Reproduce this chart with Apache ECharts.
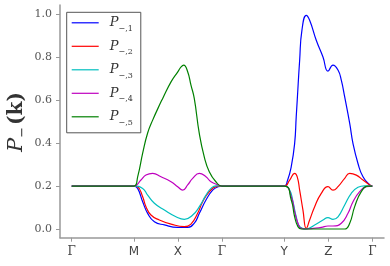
<!DOCTYPE html>
<html><head><meta charset="utf-8">
<script src="https://cdn.jsdelivr.net/npm/echarts@6/dist/echarts.min.js"></script>
<style>html,body{margin:0;padding:0;background:#fff}#c{width:390px;height:266px}</style>
</head><body><div id="c"></div>
<script>
// path coordinate of high-symmetry points and their labels
const tickPos = [0, 1.414, 2.414, 3.414, 4.828, 5.828, 6.828];
const tickLabels = ['Γ', 'M', 'X', 'Γ', 'Y', 'Z', 'Γ'];
const yTicks = [0, 0.2, 0.4, 0.6, 0.8, 1.0];
const seriesNames = ['P1', 'P2', 'P3', 'P4', 'P5'];
const subs = ['−,1', '−,2', '−,3', '−,4', '−,5'];

const p1 = [[0,0.2],[1.414,0.2],[1.498,0.189],[1.612,0.127],[1.725,0.073],[1.878,0.034],[2.105,0.019],[2.407,0.008],[2.634,0.008],[2.786,0.027],[2.9,0.073],[3.05,0.135],[3.202,0.181],[3.327,0.197],[3.414,0.2],
  [4.828,0.2],[4.9,0.225],[4.987,0.29],[5.064,0.398],[5.1,0.522],[5.123,0.6],[5.178,0.786],[5.23,0.926],[5.328,0.995],[5.405,0.972],[5.555,0.879],[5.708,0.801],[5.821,0.735],[5.935,0.763],[6.049,0.74],[6.124,0.693],[6.201,0.615],[6.315,0.492],[6.39,0.398],[6.503,0.305],[6.617,0.243],[6.77,0.205],[6.828,0.2]];
const p2 = [[0,0.2],[1.414,0.2],[1.498,0.197],[1.612,0.15],[1.687,0.104],[1.8,0.065],[1.991,0.042],[2.255,0.023],[2.559,0.011],[2.709,0.023],[2.861,0.073],[2.975,0.127],[3.127,0.174],[3.277,0.197],[3.414,0.2],
  [4.828,0.2],[4.951,0.228],[5.064,0.259],[5.123,0.243],[5.178,0.181],[5.253,0.088],[5.328,0.003],[5.405,0.042],[5.519,0.104],[5.669,0.166],[5.821,0.197],[5.935,0.181],[6.049,0.197],[6.201,0.236],[6.315,0.259],[6.465,0.251],[6.617,0.228],[6.77,0.205],[6.828,0.2]];
const p3 = [[0,0.2],[1.414,0.2],[1.612,0.189],[1.725,0.158],[1.878,0.12],[2.105,0.088],[2.368,0.057],[2.559,0.045],[2.748,0.065],[2.9,0.104],[3.05,0.158],[3.164,0.189],[3.277,0.201],[3.414,0.2],
  [4.828,0.2],[4.951,0.181],[5.026,0.127],[5.1,0.057],[5.178,0.011],[5.328,0.0],[5.519,0.019],[5.708,0.042],[5.821,0.053],[5.935,0.045],[6.049,0.057],[6.201,0.112],[6.351,0.166],[6.503,0.194],[6.655,0.201],[6.828,0.2]];
const p4 = [[0,0.2],[1.414,0.2],[1.573,0.228],[1.687,0.251],[1.839,0.259],[2.028,0.243],[2.256,0.22],[2.407,0.197],[2.52,0.181],[2.634,0.205],[2.748,0.236],[2.9,0.259],[3.05,0.243],[3.164,0.22],[3.33,0.205],[3.414,0.2],
  [4.828,0.2],[4.987,0.15],[5.064,0.081],[5.139,0.027],[5.214,0.003],[5.328,0.0],[5.669,0.008],[5.821,0.014],[5.935,0.014],[6.124,0.027],[6.276,0.073],[6.39,0.127],[6.541,0.174],[6.691,0.197],[6.828,0.2]];
const p5 = [[0,0.2],[1.414,0.2],[1.498,0.243],[1.612,0.353],[1.725,0.447],[1.839,0.507],[2.028,0.592],[2.067,0.608],[2.256,0.685],[2.41,0.732],[2.485,0.755],[2.544,0.763],[2.634,0.732],[2.709,0.67],[2.784,0.608],[2.898,0.445],[3.011,0.336],[3.125,0.267],[3.275,0.22],[3.414,0.2],
  [4.828,0.2],[4.987,0.135],[5.064,0.057],[5.139,0.011],[5.214,0.0],[5.6,0.0],[6.0,0.0],[6.201,0.0],[6.315,0.027],[6.428,0.104],[6.578,0.174],[6.73,0.2],[6.828,0.2]];

const colors = ['#0000ff', '#ff0000', '#00bfbf', '#bf00bf', '#008000'];
const data = [p1, p2, p3, p4, p5];

const chart = echarts.init(document.getElementById('c'), null, {renderer: 'canvas'});
const axisGray = '#999999';
chart.setOption({
  animation: false,
  backgroundColor: '#ffffff',
  grid: {left: 60, right: 6, top: 5, bottom: 28.3},
  xAxis: {
    type: 'value', min: -0.266, max: 7.094,
    axisLine: {show: true, onZero: false, lineStyle: {color: axisGray, width: 1.5}},
    axisTick: {show: true, length: 4, customValues: tickPos, lineStyle: {color: axisGray}},
    splitLine: {show: false},
    axisLabel: {
      customValues: tickPos, margin: 8, color: '#444', fontFamily: 'DejaVu Sans', fontSize: 12,
      formatter: function (v) {
        let idx = 0, best = 1e9;
        tickPos.forEach((t, i) => { if (Math.abs(t - v) < best) { best = Math.abs(t - v); idx = i; } });
        const s = tickLabels[idx];
        return s === 'Γ' ? '{g|Γ}' : s;
      },
      rich: {g: {fontFamily: 'DejaVu Serif', fontSize: 12, color: '#444'}}
    }
  },
  yAxis: {
    type: 'value', min: -0.0405, max: 1.043,
    axisLine: {show: true, onZero: false, lineStyle: {color: axisGray, width: 1.5}},
    axisTick: {show: true, length: 4, customValues: yTicks, lineStyle: {color: axisGray}},
    splitLine: {show: false},
    axisLabel: {customValues: yTicks, margin: 8, color: '#555', fontFamily: 'DejaVu Serif', fontSize: 11,
      formatter: v => v.toFixed(1)}
  },
  legend: {
    orient: 'vertical', left: 66.7, top: 12.3,
    padding: [4, 8, 6, 5], itemGap: 7, itemWidth: 27, itemHeight: 1.2, icon: 'rect',
    borderColor: '#555', borderWidth: 1, backgroundColor: '#fff',
    data: seriesNames,
    formatter: function (name) { const i = seriesNames.indexOf(name); return '{p|P}{s|' + subs[i] + '}'; },
    textStyle: {
      padding: [0, 0, 0, 6],
      rich: {
        p: {fontFamily: 'DejaVu Serif', fontStyle: 'italic', fontSize: 13, color: '#333', lineHeight: 14, verticalAlign: 'middle'},
        s: {fontFamily: 'DejaVu Serif', fontSize: 8, color: '#333', lineHeight: 8, verticalAlign: 'bottom', padding: [0, 0, -3, 0]}
      }
    }
  },
  graphic: [{
    type: 'text', x: 17, y: 122, rotation: Math.PI / 2,
    style: {
      text: '{p|P}{s|−}{b|(k)}', align: 'center', verticalAlign: 'middle',
      rich: {
        p: {fontFamily: 'DejaVu Serif', fontStyle: 'italic', fontSize: 21, fill: '#333', lineHeight: 24, verticalAlign: 'middle'},
        s: {fontFamily: 'DejaVu Serif', fontSize: 13, fill: '#333', lineHeight: 13, verticalAlign: 'bottom', padding: [0, 2, 0, 0]},
        b: {fontFamily: 'DejaVu Serif', fontWeight: 'bold', fontSize: 20, fill: '#333', lineHeight: 24, verticalAlign: 'middle'}
      }
    }
  }],
  series: data.map((d, i) => ({
    name: seriesNames[i], type: 'line', data: d, smooth: 0.5,
    symbol: 'none', color: colors[i], lineStyle: {width: 1.2, color: colors[i]}
  }))
});
</script></body></html>
